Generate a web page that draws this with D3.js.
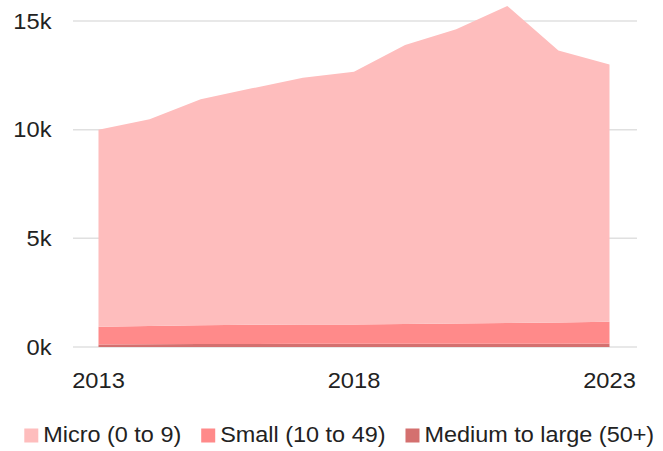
<!DOCTYPE html>
<html>
<head>
<meta charset="utf-8">
<script src="https://cdn.jsdelivr.net/npm/d3@7"></script>
<style>
  html, body { margin: 0; padding: 0; background: #fff; }
  svg text { font-family: "Liberation Sans", Arial, sans-serif; fill: #222; }
</style>
</head>
<body>
<div id="chart"></div>
<script>
// data (number of businesses)
const years = [2013, 2014, 2015, 2016, 2017, 2018, 2019, 2020, 2021, 2022, 2023];
const micro = [9070, 9510, 10400, 10880, 11360, 11620, 12840, 13540, 14590, 12510, 11840];
const small = [820, 840, 860, 880, 880, 890, 910, 930, 950, 980, 1000];
const medium = [110, 130, 140, 140, 150, 150, 150, 150, 150, 150, 160];
const seriesNames = ["Micro (0 to 9)", "Small (10 to 49)", "Medium to large (50+)"];
const yTicks = [0, 5000, 10000, 15000];
const xTicks = [2013, 2018, 2023];

const colors = ["#febdbd", "#ff8a8a", "#d4706f"];

// the reference looks slightly stretched sideways, so draw in a narrower viewBox
const width = 663;
const height = 451;
const sx = 1.1;
const vw = width / sx;

const svg = d3
  .select("#chart")
  .append("svg")
  .attr("width", width)
  .attr("height", height)
  .attr("viewBox", `0 0 ${vw} ${height}`)
  .attr("preserveAspectRatio", "none");

const x = d3.scaleLinear().domain([2013, 2023]).range([98.5 / sx, 609.5 / sx]);
const y = d3.scaleLinear().domain([0, 15000]).range([347, 21]);

// gridlines
svg
  .append("g")
  .selectAll("line")
  .data(yTicks)
  .join("line")
  .attr("x1", 73 / sx)
  .attr("x2", 637 / sx)
  .attr("y1", (d) => y(d))
  .attr("y2", (d) => y(d))
  .attr("stroke", "#e0e0e0")
  .attr("stroke-width", 1.5);

// stacked areas, medium at the bottom
const rows = years.map((yr, i) => ({
  year: yr,
  medium: medium[i],
  small: small[i],
  micro: micro[i],
}));
const stack = d3.stack().keys(["medium", "small", "micro"]);
const layers = stack(rows);
const layerColor = { micro: colors[0], small: colors[1], medium: colors[2] };

const area = d3
  .area()
  .x((d) => x(d.data.year))
  .y0((d) => y(d[0]))
  .y1((d) => y(d[1]));

svg
  .append("g")
  .selectAll("path")
  .data(layers)
  .join("path")
  .attr("d", area)
  .attr("fill", (d) => layerColor[d.key]);

// y labels
svg
  .append("g")
  .selectAll("text")
  .data(yTicks)
  .join("text")
  .attr("x", 51.5 / sx)
  .attr("y", (d) => y(d))
  .attr("dy", "0.36em")
  .attr("text-anchor", "end")
  .style("font-size", "21.5px")
  .text((d) => d / 1000 + "k");

// x labels
svg
  .append("g")
  .selectAll("text")
  .data(xTicks)
  .join("text")
  .attr("x", (d) => x(d))
  .attr("y", 388)
  .attr("text-anchor", "middle")
  .style("font-size", "21.5px")
  .text((d) => d);

// legend
const legend = svg.append("g");
let lx = 24.3 / sx;
seriesNames.forEach((name, i) => {
  legend
    .append("rect")
    .attr("x", lx)
    .attr("y", 428.5)
    .attr("width", 14 / sx)
    .attr("height", 14)
    .attr("fill", colors[i]);
  const t = legend
    .append("text")
    .attr("x", lx + 19 / sx)
    .attr("y", 442)
    .style("font-size", "21.3px")
    .text(name);
  lx += 19 / sx + t.node().getComputedTextLength() + 20 / sx;
});
</script>
</body>
</html>
